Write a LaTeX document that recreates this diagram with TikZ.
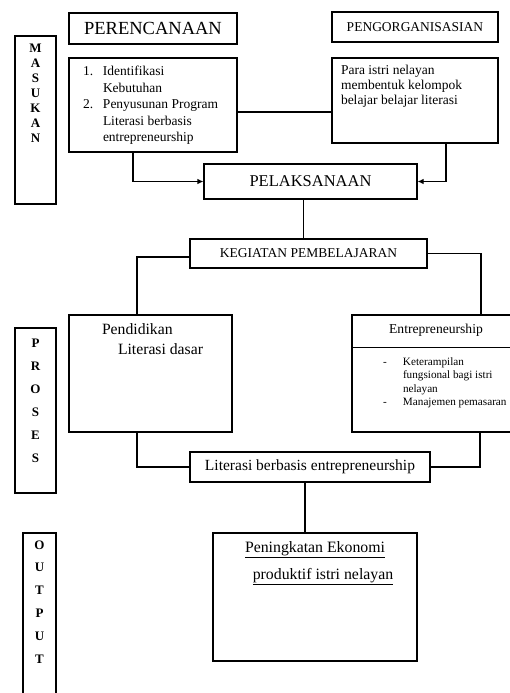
\documentclass[tikz,border=0pt]{standalone}
\usepackage{fontspec}
\setmainfont{Liberation Serif}
\usetikzlibrary{arrows.meta, positioning, calc}

% text box with its first baseline at a fixed depth
\newcommand{\topbox}[5]{\parbox[c][#2][t]{#1}{#4\rule{0pt}{#3}#5}}

\begin{document}
\begin{tikzpicture}[
  x=1pt, y=-1pt,
  box/.style={draw, line width=1.1pt, inner sep=0pt,
              font=\fontsize{13.5}{16}\selectfont},
  side/.style={box},
  conn/.style={line width=1.1pt},
  arr/.style={-{Latex[length=6pt,width=5.5pt]}, line width=1.1pt},
]
\useasboundingbox (0,0) rectangle (510,693);
\clip (0,0) rectangle (510,693);

% left column
\node[side] (masukan) at (35.5,120) {\topbox{41pt}{168pt}{16pt}{\centering\fontsize{13}{15}\selectfont\bfseries}{M\\A\\S\\U\\K\\A\\N}};
\node[side] (proses) at (35.5,410.5) {\topbox{41pt}{165pt}{19pt}{\centering\fontsize{13}{23}\selectfont\bfseries}{P\\R\\O\\S\\E\\S}};
\node[side] (output) at (39.5,616.5) {\topbox{33pt}{167pt}{16pt}{\centering\fontsize{13}{22.8}\selectfont\bfseries}{O\\U\\T\\P\\U\\T}};

% masukan
\node[box, minimum width=168pt, minimum height=31pt, font=\fontsize{18.5}{20}\selectfont] (perencanaan) at (153,28.5) {PERENCANAAN};
\node[box] (rencana) at (153,105) {\topbox{168pt}{94pt}{17.5pt}{\fontsize{13.5}{16.5}\selectfont\leftskip=34pt}{\llap{\makebox[20pt][l]{1.}}Identifikasi\\Kebutuhan\\\llap{\makebox[20pt][l]{2.}}Penyusunan Program\\Literasi berbasis\\entrepreneurship}};
\node[box, minimum width=166pt, minimum height=30pt] (pengorganisasian) at (415,27) {PENGORGANISASIAN};
\node[box] (kelompok) at (415,100.5) {\topbox{166pt}{85pt}{16.5pt}{\fontsize{13.5}{15}\selectfont\leftskip=9pt}{Para istri nelayan\\membentuk kelompok\\belajar belajar literasi}};

% proses
\node[box, minimum width=213pt, minimum height=35pt, font=\fontsize{16.5}{20}\selectfont] (pelaksanaan) at (310.5,181.5) {PELAKSANAAN};
\node[box, minimum width=237pt, minimum height=29pt] (kegiatan) at (308.5,253.5) {KEGIATAN PEMBELAJARAN};
\node[box] (pendidikan) at (150.5,373.5) {\topbox{163pt}{117pt}{19.5pt}{\fontsize{15.7}{20}\selectfont}{\hspace*{33pt}Pendidikan\\\hspace*{49pt}Literasi dasar}};
\node[box] (entre) at (432,373.5) {\topbox{160pt}{117pt}{18pt}{\centering\fontsize{13.6}{16}\selectfont}{\hspace*{8pt}Entrepreneurship\par\vspace{18.5pt}%
  \raggedright\fontsize{11.2}{13.5}\selectfont\leftskip=51pt
  \leavevmode\llap{\makebox[20pt][l]{-}}Keterampilan\\fungsional bagi istri\\nelayan\\\leavevmode\llap{\makebox[20pt][l]{-}}Manajemen pemasaran}};
\node[box, minimum width=240pt, minimum height=30pt, font=\fontsize{15.5}{18}\selectfont] (literasi) at (310,467) {Literasi berbasis entrepreneurship};

% output
\node[box] (peningkatan) at (315,597) {\topbox{204pt}{128pt}{19.5pt}{\centering\fontsize{15.8}{26.5}\selectfont}{\underline{Peningkatan Ekonomi}\\\hspace*{16pt}\underline{produktif istri nelayan}}};

\draw[conn] ([yshift=-33pt]entre.north west) -- ([yshift=-33pt]entre.north east);

\coordinate (sambung) at ($(rencana.east)+(0,7)$);
\draw[conn] (sambung) -- (sambung -| kelompok.west);
\draw[arr] ($(rencana.south)+(-20,0)$) |- (pelaksanaan.west);
\draw[arr] ($(kelompok.south)+(31,0)$) |- (pelaksanaan.east);
\draw[conn] ($(pelaksanaan.south)+(-7,0)$) |- (kegiatan.north);
\draw[conn] ([yshift=-3.5pt]kegiatan.west) -| ($(pendidikan.north)+(-13.5,0)$);
\draw[conn] (kegiatan.east) -| ($(entre.north)+(49,0)$);
\draw[conn] ($(pendidikan.south)+(-13.5,0)$) |- (literasi.west);
\draw[conn] ($(entre.south)+(48,0)$) |- (literasi.east);
\draw[conn] ($(literasi.south)+(-5,0)$) |- (peningkatan.north);
\end{tikzpicture}
\end{document}
